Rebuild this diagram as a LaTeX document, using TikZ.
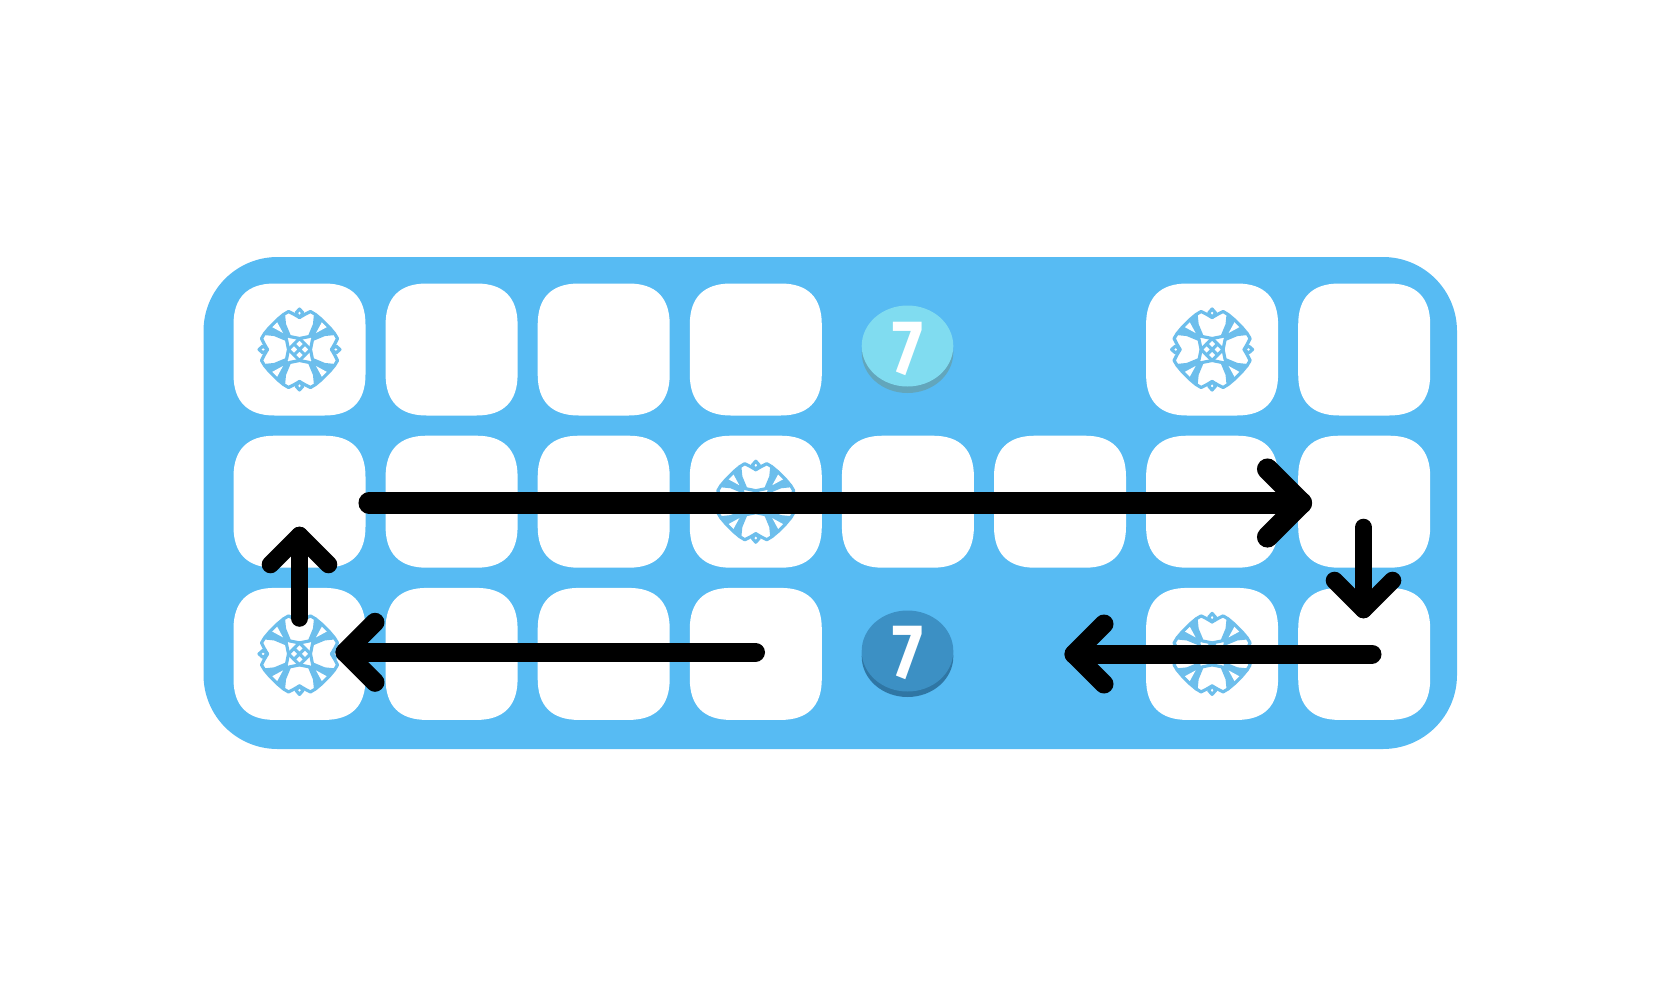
\documentclass[tikz,border=0pt]{standalone}
\usepackage{fontspec}
\usetikzlibrary{calc}
\newfontfamily\chipfont{Fira Sans}

\definecolor{boardblue}{HTML}{57BBF3}
\definecolor{flowerblue}{HTML}{6CBEEC}
\definecolor{lightchip}{HTML}{80DCF0}
\definecolor{lightedge}{HTML}{62A6BC}
\definecolor{darkchip}{HTML}{3C90C4}
\definecolor{darkedge}{HTML}{2F76A4}

\tikzset{
    cellbox/.pic={
        \fill[white] (-25,-66) -- (25,-66) .. controls (52,-66) and (66,-52) .. (66,-25)
            -- (66,25) .. controls (66,52) and (52,66) .. (25,66)
            -- (-25,66) .. controls (-52,66) and (-66,52) .. (-66,25)
            -- (-66,-25) .. controls (-66,-52) and (-52,-66) .. (-25,-66) -- cycle;
    },
    flower/.pic={
        \begin{scope}[draw=flowerblue, fill=flowerblue, line width=0.9pt, line join=round, line cap=round]
            \foreach \a in {0,90,180,270}{
                \begin{scope}[rotate=\a]
                    \fill (10,-13) -- (15,-25) -- (16,-35) -- (22,-30) -- (30,-22) -- (35,-16) -- (25,-15) -- (13,-10) -- cycle;
                    \fill[white] (16.5,-16.5) -- (22.5,-27.5) -- (27.5,-22.5) -- cycle;
                    \draw (0,-11) -- (-10,-13) -- (-15,-25) -- (-16,-35) -- (-11,-38) -- (-6,-35.5) -- (0,-32)
                        -- (6,-35.5) -- (11,-38) -- (16,-35) -- (15,-25) -- (10,-13) -- cycle;
                    \draw (0,-32) -- (-3.5,-36.5) -- (0,-40.5) -- (3.5,-36.5) -- cycle;
                    \draw (16,-35) -- (22,-30) -- (30,-22) -- (35,-16);
                \end{scope}
            }
            \draw (0,-11) -- (11,0) -- (0,11) -- (-11,0) -- cycle;
            \draw (-5.5,-5.5) -- (5.5,5.5) (5.5,-5.5) -- (-5.5,5.5);
        \end{scope}
    },
    chip/.style={font=\chipfont\bfseries\fontsize{22}{22}\selectfont, text=white, inner sep=0pt},
    route/.style={black, line cap=round, line join=round, line width=#1},
}

\begin{document}
\begin{tikzpicture}[x=0.01cm, y=-0.01cm]
    \useasboundingbox (0,0) rectangle (1660,1000);
    \fill[boardblue, rounded corners=0.74cm] (203.5,257) rectangle (1457,749);

    % board cells
    \foreach \r in {0,2}{
        \foreach \c in {0,1,2,3,6,7}{
            \pic at ({299.5+152.1*\c},{349.5+152.2*\r}) {cellbox};
        }
    }
    \foreach \c in {0,...,7}{
        \pic at ({299.5+152.1*\c},501.7) {cellbox};
    }
    \foreach \r/\c in {0/0,0/6,1/3,2/0,2/6}{
        \pic at ({299.5+152.1*\c},{349.5+152.2*\r}) {flower};
    }

    % chips
    \fill[lightedge] (907.5,352.5) ellipse (45.8 and 40.5);
    \fill[lightchip] (907.5,346) ellipse (45.8 and 40.5);
    \node[chip] (chipA) at (907.5,349) {\scalebox{0.85}[1]{7}};
    \fill[darkedge] (907.5,656.5) ellipse (45.8 and 40.5);
    \fill[darkchip] (907.5,651) ellipse (45.8 and 40.5);
    \node[chip] (chipB) at (907.5,653) {\scalebox{0.85}[1]{7}};

    % route
    \coordinate (longS) at (369,503);
    \coordinate (longE) at (1301.5,503);
    \coordinate (downS) at (1363.5,527.5);
    \coordinate (downE) at (1363.5,609.5);
    \coordinate (lowRS) at (1372,654);
    \coordinate (lowRE) at (1074,654);
    \coordinate (lowLS) at (755.5,652.3);
    \coordinate (lowLE) at (345,652.3);
    \coordinate (upS) at (299.5,618);
    \coordinate (upE) at (299.5,535.5);
    \draw[route=6pt] (longS) -- (longE);
    \draw[route=6pt] ($(longE)+(-34,-34)$) -- (longE) -- ($(longE)+(-34,34)$);
    \draw[route=5pt] (downS) -- (downE);
    \draw[route=5pt] ($(downE)+(-29,-29)$) -- (downE) -- ($(downE)+(29,-29)$);
    \draw[route=5.4pt] (lowRS) -- (lowRE);
    \draw[route=5.4pt] ($(lowRE)+(30,-30)$) -- (lowRE) -- ($(lowRE)+(30,30)$);
    \draw[route=5.4pt] (lowLS) -- (lowLE);
    \draw[route=5.4pt] ($(lowLE)+(30,-30)$) -- (lowLE) -- ($(lowLE)+(30,30)$);
    \draw[route=5pt] (upS) -- (upE);
    \draw[route=5pt] ($(upE)+(-29,29)$) -- (upE) -- ($(upE)+(29,29)$);
\end{tikzpicture}
\end{document}
